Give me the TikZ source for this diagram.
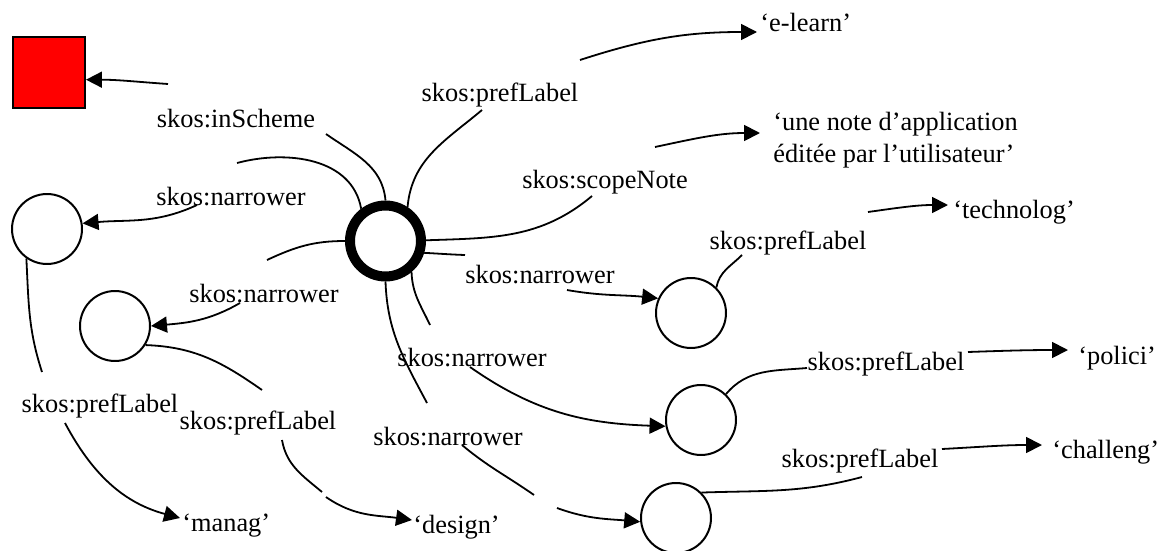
\documentclass[tikz,border=0pt]{standalone}
\usepackage{fontspec}
\setmainfont{Liberation Serif}
\usetikzlibrary{arrows.meta}

\begin{document}
\begin{tikzpicture}[x=0.02cm, y=-0.02cm,
  every node/.style={font=\fontsize{15}{18}\selectfont},
  lbl/.style={inner sep=0pt},
  val/.style={inner ysep=0pt, anchor=west, align=left},
  concept/.style={circle, draw, line width=0.04cm, minimum size=1.4cm, inner sep=0pt},
  scheme/.style={rectangle, draw, fill=red, line width=0.04cm, minimum size=1.44cm, inner sep=0pt},
  link/.style={line width=0.036cm},
  arr/.style={link, -{Triangle[length=0.32cm, width=0.32cm]}},
]
\useasboundingbox (0,0) rectangle (1160,551);

% concept scheme and concepts
\node[scheme] (sq) at (49,72.5) {};
\node[concept, line width=0.2cm, minimum size=1.42cm] (c) at (385.5,241) {};
\node[concept] (n1) at (47,229) {};
\node[concept] (n2) at (115,326) {};
\node[concept] (nA) at (691,313) {};
\node[concept] (nB) at (701,420) {};
\node[concept] (nC) at (676,518) {};

% property labels
\node[lbl] (lIn) at (236,119) {skos:inScheme};
\node[lbl] (lN1) at (231,197) {skos:narrower};
\node[lbl] (lN2) at (264,294) {skos:narrower};
\node[lbl] (lN3) at (540,275) {skos:narrower};
\node[lbl] (lN4) at (472,358) {skos:narrower};
\node[lbl] (lN5) at (448,437) {skos:narrower};
\node[lbl] (lP0) at (500,95) {skos:prefLabel};
\node[lbl] (lS) at (605,182) {skos:scopeNote};
\node[lbl] (lPA) at (788,243) {skos:prefLabel};
\node[lbl] (lPB) at (886,364) {skos:prefLabel};
\node[lbl] (lPC) at (860,461) {skos:prefLabel};
\node[lbl] (lP1) at (100,406) {skos:prefLabel};
\node[lbl] (lP2) at (258,423) {skos:prefLabel};

% literal values
\node[val, inner xsep=0.06cm] (vE) at (757,22) {‘e-learn’};
\node[val, inner xsep=0.26cm] (vU) at (760,140) {‘une note d’application\\éditée par l’utilisateur’};
\node[val, inner xsep=0.1cm] (vT) at (948,212) {‘technolog’};
\node[val, inner xsep=0.2cm] (vP) at (1068,358) {‘polici’};
\node[val, inner xsep=0.2cm] (vCh) at (1042,452) {‘challeng’};
\node[val, inner xsep=0.04cm] (vM) at (180,526) {‘manag’};
\node[val, inner xsep=0.02cm] (vD) at (412,527) {‘design’};

% break points beside the labels
\coordinate (a1) at (326,134);
\coordinate (a2) at (168,84);
\coordinate (b1) at (237,163);
\coordinate (b2) at (197,205);
\coordinate (c1) at (267,260);
\coordinate (c2) at (240,303);
\coordinate (d1) at (42,372);
\coordinate (d2) at (65,423);
\coordinate (e1) at (262,390);
\coordinate (e2) at (282,440);
\coordinate (e3) at (322,492);
\coordinate (e4) at (326,497);
\coordinate (f1) at (482,110);
\coordinate (f2) at (580,60);
\coordinate (g1) at (592,196);
\coordinate (g2) at (655,147);
\coordinate (h1) at (465,255);
\coordinate (h2) at (567,290);
\coordinate (i1) at (430,325);
\coordinate (i2) at (470,367);
\coordinate (j1) at (427,403);
\coordinate (j2) at (462,445);
\coordinate (j3) at (534,495);
\coordinate (j4) at (557,508);
\coordinate (k1) at (742,255);
\coordinate (k2) at (868,212);
\coordinate (l1) at (807,368);
\coordinate (l2) at (968,352);
\coordinate (m1) at (862,477);
\coordinate (m2) at (942,449);

% skos:inScheme
\draw[link] (c.90) to[out=95,in=-35] (a1);
\draw[arr] (a2) to[out=176,in=0] (sq.-11);
% narrower concepts on the left
\draw[link] (c.127) to[out=100,in=15] (b1);
\draw[arr] (b2) to[out=-155,in=5] (n1.9);
\draw[link] (c.180) to[out=180,in=25] (c1);
\draw[arr] (c2) to[out=-150,in=5] (n2.0);
\draw[link] (n1.-125) to[out=-87,in=108] (d1);
\draw[arr] (d2) to[out=-62,in=165] ([yshift=0.16cm]vM.west);
\draw[link] (n2.-32) to[out=-2,in=145] (e1);
\draw[link] (e2) to[out=-80,in=140] (e3);
\draw[arr] (e4) to[out=-35,in=172] ([yshift=0.14cm]vD.west);
% prefLabel and scopeNote of the central concept
\draw[link] (c.57) to[out=85,in=-140] (f1);
\draw[arr] (f2) to[out=18,in=180] ([yshift=-0.2cm]vE.west);
\draw[link] (c.1) to[out=2,in=-140] (g1);
\draw[arr] (g2) to[out=12,in=180] ([yshift=0.14cm]vU.west);
% narrower concepts on the right
\draw[link] (c.-17) to[out=-3,in=178] (h1);
\draw[arr] (h2) to[out=-10,in=174] (nA.156);
\draw[link] (c.-50) to[out=-88,in=115] (i1);
\draw[arr] (i2) to[out=-35,in=178] (nB.190);
\draw[link] (c.-90) to[out=-88,in=118] (j1);
\draw[link] (j2) to[out=-40,in=145] (j3);
\draw[arr] (j4) to[out=-20,in=175] (nC.186);
% their preferred labels
\draw[link] (nA.45) to[out=80,in=-135] (k1);
\draw[arr] (k2) to[out=8,in=180] ([yshift=0.14cm]vT.west);
\draw[link] (nB.46) to[out=50,in=185] (l1);
\draw[arr] (l2) to[out=2,in=180] ([yshift=0.16cm]vP.west);
\draw[link] (nC.45) to[out=2,in=195] (m1);
\draw[arr] (m2) to[out=3,in=180] ([yshift=0.14cm]vCh.west);
\end{tikzpicture}
\end{document}
